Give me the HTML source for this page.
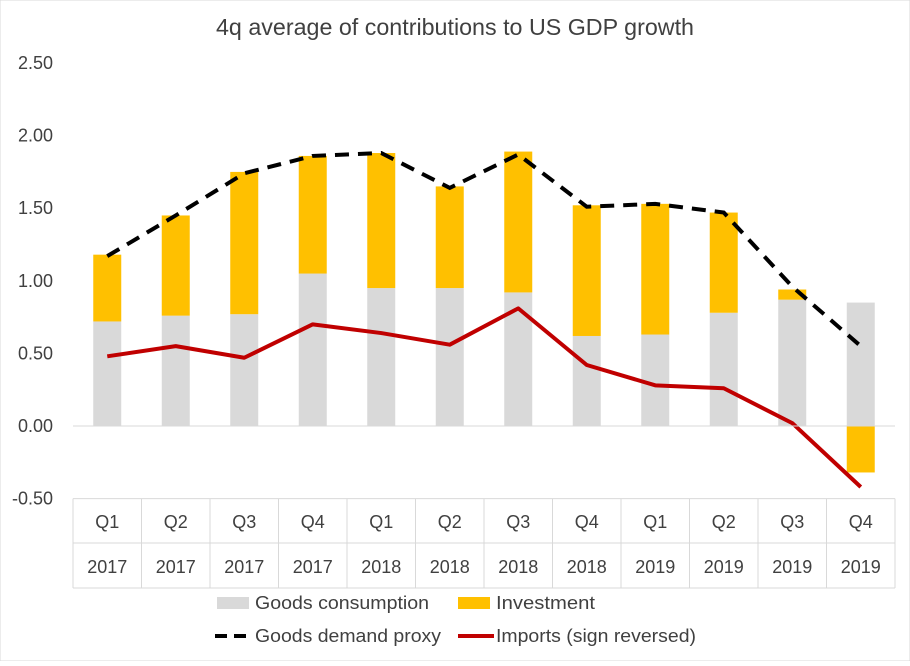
<!DOCTYPE html>
<html><head><meta charset="utf-8"><style>
body{margin:0;background:#fff;font-family:"Liberation Sans","DejaVu Sans",sans-serif;}
svg text{font-family:"Liberation Sans","DejaVu Sans",sans-serif;fill:#404040;}
</style></head><body>
<svg id="chart" width="910" height="661" xmlns="http://www.w3.org/2000/svg">
<rect width="910" height="661" fill="#fff" stroke="#d9d9d9"/>
<text x="455" y="35" font-size="23" text-anchor="middle" textLength="478" lengthAdjust="spacingAndGlyphs">4q average of contributions to US GDP growth</text>
<g id="yaxis"></g>
<g id="bars"></g>
<g id="lines"></g>
<g id="xaxis"></g>
<g>
<rect x="217" y="597" width="32" height="12" fill="#d9d9d9"/>
<text x="255" y="609" font-size="18" textLength="174" lengthAdjust="spacingAndGlyphs">Goods consumption</text>
<rect x="458" y="597" width="32" height="12" fill="#ffc000"/>
<text x="496" y="609" font-size="18" textLength="99" lengthAdjust="spacingAndGlyphs">Investment</text>
<line x1="215" y1="636" x2="250" y2="636" stroke="#000" stroke-width="4" stroke-dasharray="12,7"/>
<text x="255" y="642" font-size="18" textLength="186" lengthAdjust="spacingAndGlyphs">Goods demand proxy</text>
<line x1="458" y1="636" x2="494" y2="636" stroke="#c00000" stroke-width="4"/>
<text x="496" y="642" font-size="18" textLength="200" lengthAdjust="spacingAndGlyphs">Imports (sign reversed)</text>
</g>
</svg>
<script>
const quarters=["Q1","Q2","Q3","Q4","Q1","Q2","Q3","Q4","Q1","Q2","Q3","Q4"];
const years=["2017","2017","2017","2017","2018","2018","2018","2018","2019","2019","2019","2019"];
const consumption=[0.72,0.76,0.77,1.05,0.95,0.95,0.92,0.62,0.63,0.78,0.87,0.85];
const investment=[0.46,0.69,0.98,0.81,0.93,0.70,0.97,0.90,0.90,0.69,0.07,-0.32];
const demandProxy=[1.17,1.45,1.74,1.86,1.88,1.64,1.87,1.51,1.53,1.47,0.96,0.55];
const imports=[0.48,0.55,0.47,0.70,0.64,0.56,0.81,0.42,0.28,0.26,0.02,-0.42];
const yTicks=[2.5,2.0,1.5,1.0,0.5,0.0,-0.5];
const NS="http://www.w3.org/2000/svg";
const x0=73,x1=895,n=quarters.length,cw=(x1-x0)/n;
const yS=v=>426-v*145.2;
const xC=i=>x0+cw*(i+0.5);
function mk(tag,attrs,parent,txt){const e=document.createElementNS(NS,tag);for(const k in attrs)e.setAttribute(k,attrs[k]);if(txt!==undefined)e.textContent=txt;parent.appendChild(e);return e;}
const ya=document.getElementById('yaxis');
yTicks.forEach(t=>{const e=mk('text',{x:53,y:yS(t)+6,'font-size':18,'text-anchor':'end'},ya,t.toFixed(2));

});
const bg=document.getElementById('bars'),bw=28;
for(let i=0;i<n;i++){
 const c=mk('rect',{x:xC(i)-bw/2,y:yS(consumption[i]),width:bw,height:yS(0)-yS(consumption[i]),fill:'#d9d9d9'},bg);
 
 
 let a,b;
 if(investment[i]>=0){a=yS(consumption[i]+investment[i]);b=yS(consumption[i]);}else{a=yS(0);b=yS(investment[i]);}
 const r=mk('rect',{x:xC(i)-bw/2,y:a,width:bw,height:b-a,fill:'#ffc000'},bg);
 
 
}
const lg=document.getElementById('lines');
const pts=arr=>arr.map((v,i)=>xC(i)+','+yS(v)).join(' ');
const l1=mk('polyline',{points:pts(imports),fill:'none',stroke:'#c00000','stroke-width':4,'stroke-linejoin':'round'},lg);


const l2=mk('polyline',{points:pts(demandProxy),fill:'none',stroke:'#000','stroke-width':4,'stroke-dasharray':'14,9'},lg);


const xa=document.getElementById('xaxis');
mk('line',{x1:x0,y1:yS(0),x2:x1,y2:yS(0),stroke:'#d9d9d9','stroke-width':1},xa);
const yb=yS(-0.5);
[yb,543,588].forEach(y=>mk('line',{x1:x0,y1:y,x2:x1,y2:y,stroke:'#d9d9d9'},xa));
for(let i=0;i<=n;i++)mk('line',{x1:x0+cw*i,y1:yb,x2:x0+cw*i,y2:588,stroke:'#d9d9d9'},xa);
for(let i=0;i<n;i++){
 const q=mk('text',{x:xC(i),y:528,'font-size':18,'text-anchor':'middle'},xa,quarters[i]);
 
 
 const y=mk('text',{x:xC(i),y:573,'font-size':18,'text-anchor':'middle'},xa,years[i]);
 
 
}
</script>
</body></html>
